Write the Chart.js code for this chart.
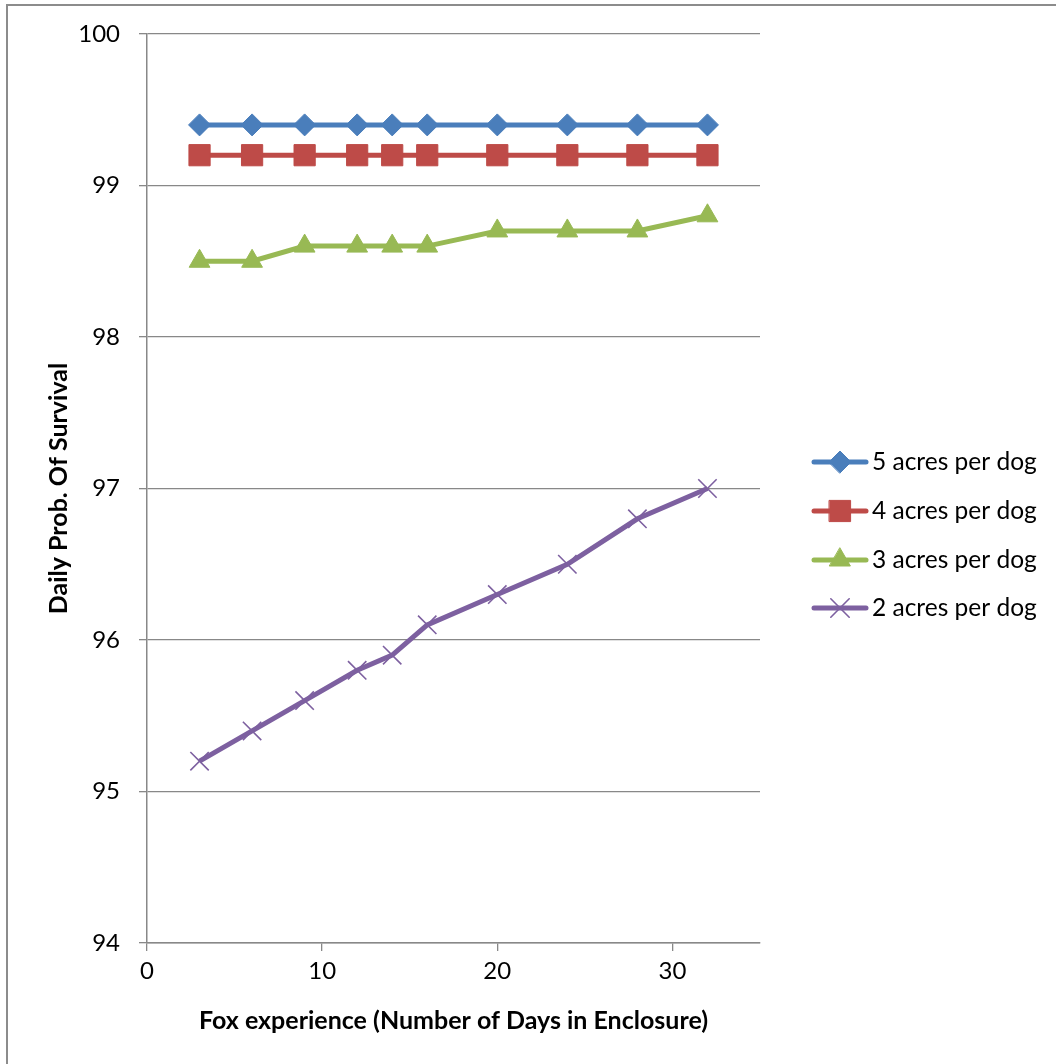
<!DOCTYPE html>
<html>
<head>
<meta charset="utf-8">
<script src="https://cdn.jsdelivr.net/npm/chart.js@4.4.0/dist/chart.umd.min.js"></script>
<style>
  html, body { margin: 0; padding: 0; background: #fff; }
  #wrap { position: relative; width: 1056px; height: 1064px; overflow: hidden; }
  #frame { position: absolute; left: 6px; top: 4px; width: 1200px; height: 1200px; border: 2px solid #8c8c8c; box-sizing: border-box; }
  canvas { position: absolute; left: 0; top: 0; }
</style>
</head>
<body>
<div id="wrap">
  <div id="frame"></div>
  <canvas id="myChart" width="1056" height="1064"></canvas>
</div>
<script>
// days in enclosure (x axis)
const days = [3, 6, 9, 12, 14, 16, 20, 24, 28, 32];

// daily prob. of survival for each density
const fiveAcres = [99.4, 99.4, 99.4, 99.4, 99.4, 99.4, 99.4, 99.4, 99.4, 99.4];
const fourAcres = [99.2, 99.2, 99.2, 99.2, 99.2, 99.2, 99.2, 99.2, 99.2, 99.2];
const threeAcres = [98.5, 98.5, 98.6, 98.6, 98.6, 98.6, 98.7, 98.7, 98.7, 98.8];
const twoAcres = [95.2, 95.4, 95.6, 95.8, 95.9, 96.1, 96.3, 96.5, 96.8, 97.0];

const seriesNames = ["5 acres per dog", "4 acres per dog", "3 acres per dog", "2 acres per dog"];
const xTicks = [0, 10, 20, 30];

const FONT = "Lato";

const toPoints = (values) => values.map((v, i) => ({ x: days[i], y: v }));

const makeSeries = (label, values, color, style, radius, borderWidth) => ({
  label: label,
  data: toPoints(values),
  borderColor: color,
  backgroundColor: color,
  borderWidth: 5,
  pointStyle: style,
  pointRadius: radius,
  pointHoverRadius: radius,
  pointBorderWidth: borderWidth,
  pointBackgroundColor: color,
  pointBorderColor: color,
  tension: 0,
});

// legend drawn on the right: line + marker + text, like Excel
const sideLegend = {
  id: "sideLegend",
  afterDraw(chart) {
    const ctx = chart.ctx;
    const rows = [462, 511, 560, 608];
    ctx.save();
    chart.data.datasets.forEach((ds, i) => {
      const y = rows[i];
      ctx.strokeStyle = ds.borderColor;
      ctx.lineWidth = 5;
      ctx.lineCap = "round";
      ctx.beginPath();
      ctx.moveTo(814, y);
      ctx.lineTo(866, y);
      ctx.stroke();
      ctx.fillStyle = ds.pointBackgroundColor;
      ctx.strokeStyle = ds.pointBorderColor;
      ctx.lineWidth = ds.pointBorderWidth;
      Chart.helpers.drawPoint(ctx, {
        pointStyle: ds.pointStyle,
        radius: ds.pointRadius,
        rotation: 0,
        borderWidth: ds.pointBorderWidth,
      }, 840, y);
      ctx.fillStyle = "#000";
      ctx.font = "24.5px " + FONT;
      ctx.textAlign = "left";
      ctx.textBaseline = "middle";
      ctx.fillText(ds.label, 872, y);
    });
    ctx.restore();
  },
};

const ctx = document.getElementById("myChart").getContext("2d");
new Chart(ctx, {
  type: "line",
  data: {
    datasets: [
      makeSeries(seriesNames[0], fiveAcres, "#4A7EBB", "rectRot", 11, 1),
      makeSeries(seriesNames[1], fourAcres, "#BE4B48", "rect", 15, 1),
      makeSeries(seriesNames[2], threeAcres, "#98B954", "triangle", 12, 1),
      makeSeries(seriesNames[3], twoAcres, "#7D60A0", "crossRot", 13, 1.6),
    ],
  },
  options: {
    responsive: false,
    animation: false,
    layout: { padding: { top: 34, right: 296, bottom: 0, left: 0 } },
    plugins: {
      legend: { display: false },
      tooltip: { enabled: false },
    },
    scales: {
      x: {
        type: "linear",
        min: 0,
        max: 35,
        afterBuildTicks: (scale) => {
          scale.ticks = xTicks.map((v) => ({ value: v }));
        },
        afterFit: (scale) => {
          scale.height = 1064 - 943;
        },
        grid: { drawOnChartArea: false, color: "#888", lineWidth: 1.3, tickLength: 8 },
        border: { color: "#888", width: 1.5 },
        ticks: { color: "#000", font: { family: FONT, size: 24 }, padding: 6 },
        title: {
          display: true,
          text: "Fox experience (Number of Days in Enclosure)",
          color: "#000",
          font: { family: FONT, size: 25, weight: "bold" },
          padding: { top: 0, bottom: 28 },
        },
      },
      y: {
        min: 94,
        max: 100,
        afterFit: (scale) => {
          scale.width = 147;
        },
        grid: { color: "#888", lineWidth: 1.3, tickLength: 8 },
        border: { color: "#888", width: 1.5 },
        ticks: { stepSize: 1, color: "#000", font: { family: FONT, size: 24 }, padding: 19 },
        title: {
          display: true,
          text: "Daily Prob. Of Survival",
          color: "#000",
          font: { family: FONT, size: 25, weight: "bold" },
          padding: { top: 44, bottom: 0 },
        },
      },
    },
  },
  plugins: [sideLegend],
});
</script>
</body>
</html>
